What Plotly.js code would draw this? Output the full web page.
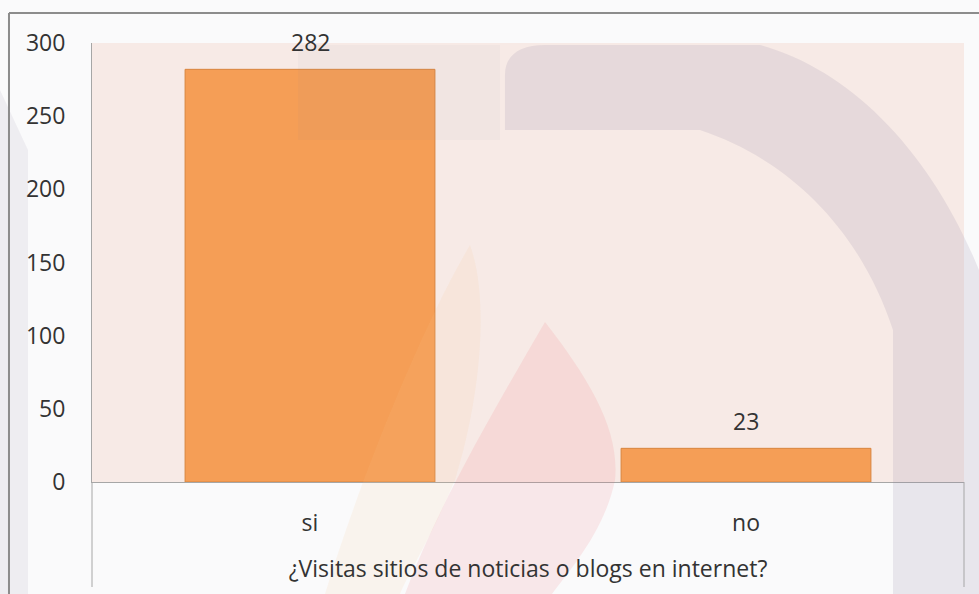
<!DOCTYPE html>
<html>
<head>
<meta charset="utf-8">
<script src="https://cdn.plot.ly/plotly-3.0.1.min.js"></script>
<style>
  html, body { margin: 0; padding: 0; background: #fafafb; }
  #chart { width: 979px; height: 594px; }
</style>
</head>
<body>
<div id="chart"></div>
<script>
const categories = ['si', 'no'];
const counts = [282, 23];
const yTicks = [0, 50, 100, 150, 200, 250, 300];
const xTitle = '¿Visitas sitios de noticias o blogs en internet?';

const W = 979, H = 594;
const M = {l: 92, r: 15, t: 43, b: 112};
const PW = W - M.l - M.r, PH = H - M.t - M.b;

// pixel -> paper coordinates, for the watermark and frame decorations
const px = x => ((x - M.l) / PW).toFixed(4);
const py = y => ((H - M.b - y) / PH).toFixed(4);
const path = pts => pts.map((p, i) => {
    if (p[0] === 'C') return `C${px(p[1])},${py(p[2])} ${px(p[3])},${py(p[4])} ${px(p[5])},${py(p[6])}`;
    return (i === 0 ? 'M' : 'L') + px(p[0]) + ',' + py(p[1]);
}).join(' ') + ' Z';

const grayBand = path([
    [505, 130], [505, 75], ['C', 505, 55, 520, 45, 545, 45], [760, 45],
    ['C', 850, 70, 930, 150, 979, 270], [979, 594], [893, 594], [893, 330],
    ['C', 860, 230, 790, 160, 700, 130]
]);
const grayTail = path([[298, 45], [500, 45], [500, 140], [298, 140]]);
const pinkFlame = path([
    [545, 322], ['C', 590, 380, 620, 430, 615, 480], ['C', 605, 530, 570, 570, 552, 594],
    [405, 594], ['C', 440, 500, 500, 400, 545, 322]
]);
const creamFlame = path([
    [470, 245], ['C', 490, 300, 480, 400, 455, 480], ['C', 430, 540, 410, 570, 400, 594],
    [325, 594], ['C', 360, 480, 420, 330, 470, 245]
]);
const leftStrip = path([[0, 90], [28, 150], [28, 594], [0, 594]]);

const wm = (p, color) => ({type: 'path', xref: 'paper', yref: 'paper', path: p,
    layer: 'above', fillcolor: color, line: {width: 0}});

const shapes = [
    wm(grayBand, 'rgba(140,132,160,0.16)'),
    wm(grayTail, 'rgba(140,132,160,0.05)'),
    wm(pinkFlame, 'rgba(240,110,115,0.13)'),
    wm(creamFlame, 'rgba(250,200,140,0.12)'),
    wm(leftStrip, 'rgba(140,132,160,0.10)'),
    // category boundary lines under the axis
    {type: 'line', xref: 'paper', yref: 'paper', x0: 0, x1: 0, y0: 0, y1: py(587),
     line: {color: '#a6a6a6', width: 1}},
    {type: 'line', xref: 'paper', yref: 'paper', x0: 1, x1: 1, y0: 0, y1: py(587),
     line: {color: '#a6a6a6', width: 1}},
    // outer chart frame
    {type: 'line', xref: 'paper', yref: 'paper', x0: px(9), x1: px(979), y0: py(13), y1: py(13),
     line: {color: '#8c8c8c', width: 2}},
    {type: 'line', xref: 'paper', yref: 'paper', x0: px(9), x1: px(9), y0: py(13), y1: py(594),
     line: {color: '#8c8c8c', width: 2}}
];

const annotations = categories.map((c, i) => ({
    x: c, y: counts[i], text: String(counts[i]), showarrow: false,
    yanchor: 'bottom', yshift: 9,
    font: {family: 'Open Sans, sans-serif', size: 23, color: '#333333'}
}));

Plotly.newPlot('chart', [{
    type: 'bar',
    x: categories,
    y: counts,
    width: 0.573,
    marker: {color: '#f59e56', line: {color: '#d8853f', width: 1}},
    hoverinfo: 'x+y'
}], {
    width: W, height: H,
    margin: M,
    paper_bgcolor: '#fafafb',
    plot_bgcolor: '#f7eae6',
    font: {family: 'Open Sans, sans-serif', size: 23, color: '#333333'},
    showlegend: false,
    xaxis: {
        type: 'category',
        showline: true, linecolor: '#a6a6a6', linewidth: 1,
        ticks: '', ticklabelstandoff: 20,
        title: {text: xTitle, standoff: 24, font: {size: 23, color: '#333333'}},
        fixedrange: true
    },
    yaxis: {
        range: [0, 300],
        tickvals: yTicks,
        showgrid: false, zeroline: false,
        showline: true, linecolor: '#a6a6a6', linewidth: 1,
        ticks: '', ticklabelstandoff: 21,
        fixedrange: true
    },
    shapes: shapes,
    annotations: annotations
}, {displayModeBar: false, staticPlot: true});
</script>
</body>
</html>
